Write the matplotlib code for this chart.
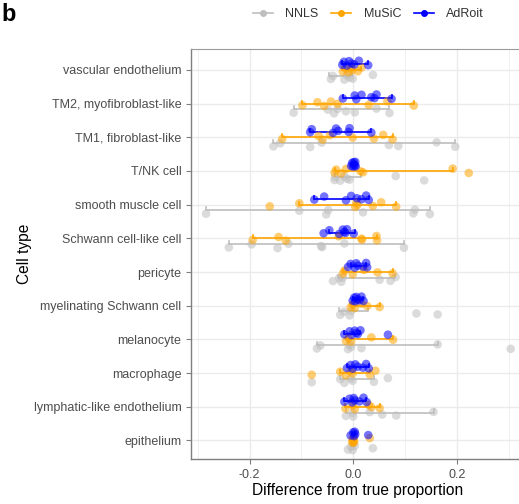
import matplotlib
matplotlib.use("Agg")
import matplotlib.pyplot as plt
from matplotlib.lines import Line2D
import numpy as np

plt.rcParams['font.family'] = ['Liberation Sans', 'DejaVu Sans']

categories = ["vascular endothelium", "TM2, myofibroblast-like", "TM1, fibroblast-like",
              "T/NK cell", "smooth muscle cell", "Schwann cell-like cell", "pericyte",
              "myelinating Schwann cell", "melanocyte", "macrophage",
              "lymphatic-like endothelium", "epithelium"]
methods = ["NNLS", "MuSiC", "AdRoit"]

adroit_points = [
    [-0.021, -0.018, -0.012, -0.008, -0.003, 0.002, 0.011, 0.029],
    [-0.020, 0.003, 0.006, 0.016, 0.035, 0.041, 0.045, 0.074],
    [-0.083, -0.080, -0.039, -0.033, -0.029, -0.009, -0.007, 0.035],
    [-0.004, -0.002, 0.0, 0.001, 0.002, 0.003, 0.004, 0.005],
    [-0.075, -0.056, -0.014, -0.004, 0.007, 0.016, 0.025, 0.030],
    [-0.057, -0.046, -0.027, -0.020, -0.017, -0.015, -0.012, 0.001],
    [-0.010, -0.005, 0.003, 0.006, 0.009, 0.019, 0.025, 0.027],
    [-0.001, 0.002, 0.004, 0.006, 0.009, 0.012, 0.016, 0.020],
    [-0.017, -0.007, -0.003, 0.003, 0.006, 0.009, 0.014, 0.067],
    [-0.012, -0.005, -0.001, 0.004, 0.009, 0.019, 0.025, 0.030],
    [-0.017, -0.007, -0.002, 0.001, 0.003, 0.012, 0.020, 0.026],
    [-0.005, 0.0, 0.002, 0.003, 0.004, 0.029],
]
adroit_lo = [-0.021, -0.020, -0.083, -0.003, -0.075, -0.047, -0.005, 0.0, -0.017, -0.012, -0.017, -0.003]
adroit_hi = [0.029, 0.074, 0.035, 0.004, 0.030, 0.003, 0.025, 0.018, 0.013, 0.030, 0.025, 0.003]

music_points = [
    [-0.020, -0.014, -0.009, -0.004, -0.002, 0.009, 0.016],
    [-0.098, -0.069, -0.056, -0.043, -0.030, 0.030, 0.066, 0.117],
    [-0.137, -0.067, -0.059, -0.045, -0.001, 0.040, 0.058, 0.076],
    [-0.036, -0.033, -0.023, -0.014, 0.014, 0.019, 0.192, 0.223],
    [-0.161, -0.104, 0.004, 0.006, 0.008, 0.038, 0.054, 0.083],
    [-0.194, -0.144, -0.130, -0.028, 0.016, 0.017, 0.045, 0.046],
    [-0.020, -0.017, -0.001, 0.021, 0.047, 0.076],
    [-0.005, -0.001, 0.003, 0.016, 0.027, 0.051],
    [-0.014, -0.009, -0.004, 0.035, 0.077],
    [-0.080, -0.025, -0.014, -0.005, -0.001, 0.032, 0.043],
    [-0.015, -0.001, 0.003, 0.030, 0.035, 0.051],
    [-0.002, -0.001, 0.0, 0.0, 0.001, 0.002, 0.032],
]
music_lo = [-0.021, -0.098, -0.137, -0.036, -0.104, -0.194, -0.020, -0.005, -0.014, -0.025, -0.015, -0.001]
music_hi = [0.016, 0.117, 0.076, 0.192, 0.083, 0.045, 0.076, 0.051, 0.077, 0.032, 0.051, 0.001]

nnls_points = [
    [-0.043, -0.039, -0.017, -0.012, -0.007, -0.001, 0.038],
    [-0.115, -0.049, -0.037, -0.030, -0.014, 0.003, 0.045, 0.070],
    [-0.154, -0.141, -0.083, -0.061, 0.069, 0.087, 0.161, 0.197],
    [-0.036, -0.035, -0.025, -0.017, -0.012, -0.007, 0.082, 0.137],
    [-0.284, -0.104, -0.052, -0.048, 0.019, 0.116, 0.119, 0.148],
    [-0.240, -0.196, -0.146, -0.125, -0.062, -0.060, -0.017, 0.098],
    [-0.039, -0.027, -0.023, -0.020, 0.051, 0.072, 0.082],
    [-0.025, -0.018, -0.007, -0.004, 0.122, 0.163],
    [-0.070, -0.063, -0.010, -0.007, -0.004, 0.016, 0.163, 0.304],
    [-0.080, -0.025, -0.017, -0.005, -0.001, 0.040, 0.067],
    [-0.014, -0.001, 0.0, 0.032, 0.056, 0.083, 0.155],
    [-0.010, -0.004, -0.001, 0.003, 0.038],
]
nnls_lo = [-0.046, -0.115, -0.154, -0.036, -0.284, -0.240, -0.030, -0.027, -0.070, -0.025, -0.014, -0.005]
nnls_hi = [-0.002, 0.070, 0.197, 0.016, 0.148, 0.098, 0.080, 0.028, 0.163, 0.040, 0.155, 0.003]

colors = {"NNLS": "#BEBEBE", "MuSiC": "#FFA500", "AdRoit": "#0000FF"}
series = {
    "NNLS": (nnls_points, nnls_lo, nnls_hi, 0.17, 0.22),
    "MuSiC": (music_points, music_lo, music_hi, 0.0, 0.0),
    "AdRoit": (adroit_points, adroit_lo, adroit_hi, -0.17, -0.20),
}
jitter = [0.05, -0.04, 0.07, -0.06, 0.01, 0.04, -0.07, 0.06]

fig = plt.figure(figsize=(5.19, 5.04), dpi=100)
ax = fig.add_axes([191/519, 45/504, 1.01 - 191/519, 410/504])

ypos = np.arange(len(categories))
for m in methods:
    pts, lo, hi, boff, poff = series[m]
    c = colors[m]
    for i in range(len(categories)):
        y = ypos[i] + boff
        ax.plot([lo[i], hi[i]], [y, y], color=c, lw=1.2, zorder=3, solid_capstyle='butt')
        for xv in (lo[i], hi[i]):
            ax.plot([xv, xv], [y, y - 0.09], color=c, lw=1.2, zorder=3)
        px = np.array(pts[i])
        py = ypos[i] + poff + np.array([jitter[k % len(jitter)] for k in range(len(px))])
        ax.scatter(px, py, s=38, color=c, alpha=0.55, edgecolors='none', zorder=4)

ax.set_xlim(-0.313, 0.33)
ax.set_ylim(11.55, -0.62)
ax.set_yticks(ypos)
ax.set_yticklabels(categories, fontsize=9, color="#4D4D4D")
ax.set_xticks([-0.2, 0.0, 0.2])
ax.set_xticklabels(["-0.2", "0.0", "0.2"], fontsize=9, color="#4D4D4D")
ax.set_xticks([-0.3, -0.1, 0.1, 0.3], minor=True)
ax.grid(True, which='major', color="#EBEBEB", lw=1.0, zorder=0)
ax.grid(True, which='minor', axis='x', color="#F0F0F0", lw=0.7, zorder=0)
ax.set_axisbelow(True)
ax.tick_params(axis='both', which='major', length=3.5, color="#7F7F7F", width=0.8)
ax.tick_params(axis='x', which='minor', length=0)
for s in ['left', 'bottom']:
    ax.spines[s].set_color("#7F7F7F")
    ax.spines[s].set_linewidth(1.0)
ax.spines['top'].set_color("#9A9A9A")
ax.spines['top'].set_linewidth(0.8)
ax.spines['right'].set_visible(False)
ax.set_xlabel("Difference from true proportion", fontsize=11.2, color="black", labelpad=2)
ax.set_ylabel("Cell type", fontsize=11.2, color="black", labelpad=1)

handles = [Line2D([0], [0], color=colors[m], lw=1.2, marker='o', markersize=4) for m in methods]
fig.legend(handles, methods, loc='center', bbox_to_anchor=(0.71, 0.972), ncol=3, frameon=False,
           fontsize=9, handlelength=1.6, columnspacing=1.0, handletextpad=1.0, labelcolor="#333333")
fig.text(0.003, 0.994, "b", fontsize=17, fontweight='bold', va='top', ha='left')

fig.savefig("out.png", dpi=100)
